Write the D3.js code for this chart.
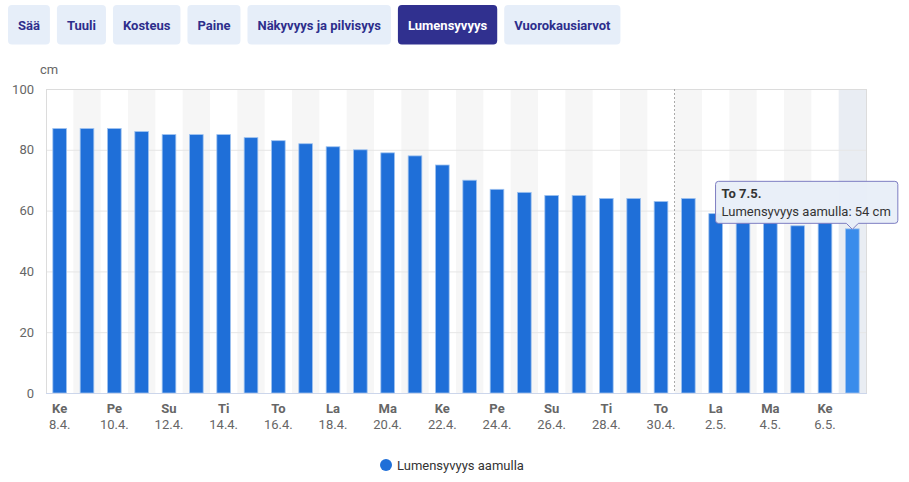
<!DOCTYPE html>
<html>
<head>
<meta charset="utf-8">
<script src="https://cdn.jsdelivr.net/npm/d3@7"></script>
<style>
  body { margin: 0; background: #fff; font-family: Roboto, "Noto Sans", sans-serif; }
  svg { display: block; }
</style>
</head>
<body>
<div id="chart"></div>
<script>
// Tabs above the chart
const tabs = ["Sää", "Tuuli", "Kosteus", "Paine", "Näkyvyys ja pilvisyys", "Lumensyvyys", "Vuorokausiarvot"];
const activeTab = "Lumensyvyys";

// Snow depth, mornings, 8.4. - 7.5.
const dates = ["8.4.", "9.4.", "10.4.", "11.4.", "12.4.", "13.4.", "14.4.", "15.4.", "16.4.", "17.4.",
    "18.4.", "19.4.", "20.4.", "21.4.", "22.4.", "23.4.", "24.4.", "25.4.", "26.4.", "27.4.",
    "28.4.", "29.4.", "30.4.", "1.5.", "2.5.", "3.5.", "4.5.", "5.5.", "6.5.", "7.5."];
const weekdays = ["Ke", "To", "Pe", "La", "Su", "Ma", "Ti", "Ke", "To", "Pe",
    "La", "Su", "Ma", "Ti", "Ke", "To", "Pe", "La", "Su", "Ma",
    "Ti", "Ke", "To", "Pe", "La", "Su", "Ma", "Ti", "Ke", "To"];
const snowDepth = [87, 87, 87, 86, 85, 85, 85, 84, 83, 82,
    81, 80, 79, 78, 75, 70, 67, 66, 65, 65,
    64, 64, 63, 64, 59, 57, 56, 55, 56, 54];
const yTicks = [0, 20, 40, 60, 80, 100];
const seriesName = "Lumensyvyys aamulla";
const unit = "cm";
const hoverIndex = 29;
const monthStart = "1.5.";

const W = 909, H = 482;
const margin = { top: 89, right: 43, bottom: 89, left: 46 };
const width = W - margin.left - margin.right,
    height = H - margin.top - margin.bottom;

const svg = d3.select("#chart").append("svg")
    .attr("width", W)
    .attr("height", H)
    .style("font-family", "Roboto, sans-serif");

// ---- tab buttons
const tabG = svg.append("g").attr("transform", "translate(8,5)");
let tx = 0;
tabs.forEach(function (t) {
    const g = tabG.append("g").attr("transform", "translate(" + tx + ",0)");
    const rect = g.append("rect")
        .attr("height", 39.5)
        .attr("rx", 4)
        .attr("fill", t === activeTab ? "#30308f" : "#e6eef9");
    const label = g.append("text")
        .attr("y", 25)
        .attr("x", 10)
        .style("font-size", "13px")
        .style("font-weight", "bold")
        .attr("fill", t === activeTab ? "#fff" : "#2e2e8c")
        .text(t);
    const w = label.node().getComputedTextLength() + 20;
    rect.attr("width", w);
    tx += w + 7;
});

const plot = svg.append("g")
    .attr("transform", "translate(" + margin.left + "," + margin.top + ")");

// scales
const xBand = d3.scaleBand().domain(dates).range([0, width]);
const x = d3.scaleBand().domain(dates).range([0, width]).paddingInner(0.5).paddingOuter(0.25);
const y = d3.scaleLinear().domain([0, 100]).range([height, 0]);

// alternating background bands
plot.append("g").selectAll("rect")
    .data(dates)
    .join("rect")
    .attr("x", d => xBand(d))
    .attr("y", 0)
    .attr("width", xBand.bandwidth())
    .attr("height", height)
    .attr("fill", (d, i) => i === hoverIndex ? "#e9edf3" : (i % 2 ? "#f6f6f6" : "none"));

// grid lines
plot.append("g").selectAll("line")
    .data(yTicks.filter(v => v > 0 && v < 100))
    .join("line")
    .attr("x1", 0).attr("x2", width)
    .attr("y1", d => y(d) + 0.5).attr("y2", d => y(d) + 0.5)
    .attr("stroke", "#e6e6e6");

// plot border
plot.append("rect")
    .attr("x", 0.5).attr("y", 0.5)
    .attr("width", width).attr("height", height)
    .attr("fill", "none")
    .attr("stroke", "#dcdcdc");

// month boundary (dotted)
plot.append("line")
    .attr("x1", Math.round(xBand(monthStart)) - 0.5)
    .attr("x2", Math.round(xBand(monthStart)) - 0.5)
    .attr("y1", 0).attr("y2", height)
    .attr("stroke", "#aaa")
    .attr("stroke-dasharray", "2,2");

// bars
plot.append("g").selectAll("rect")
    .data(snowDepth)
    .join("rect")
    .attr("x", (d, i) => x(dates[i]))
    .attr("y", d => y(d))
    .attr("width", x.bandwidth())
    .attr("height", d => height - y(d))
    .attr("fill", (d, i) => i === hoverIndex ? "#3a8ceb" : "#1f6fd8")
    .attr("stroke", "#9fc3f0")
    .attr("stroke-width", 0.8);

// x axis line
plot.append("line")
    .attr("x1", 0).attr("x2", width + 1)
    .attr("y1", height + 0.5).attr("y2", height + 0.5)
    .attr("stroke", "#ccd6eb");

// y axis
const yAxis = plot.append("g")
    .call(d3.axisLeft(y).tickValues(yTicks).tickSize(0).tickPadding(12));
yAxis.select(".domain").remove();
yAxis.selectAll("text")
    .style("font-size", "13px")
    .style("font-family", "Roboto, sans-serif")
    .attr("fill", "#666");

svg.append("text")
    .attr("x", 40).attr("y", 74)
    .style("font-size", "13px")
    .attr("fill", "#666")
    .text(unit);

// x axis labels, every other day
const xAxis = plot.append("g")
    .attr("transform", "translate(0," + height + ")")
    .call(d3.axisBottom(xBand).tickValues(dates.filter((d, i) => i % 2 === 0)).tickSize(0).tickFormat(""));
xAxis.select(".domain").remove();
xAxis.selectAll(".tick").each(function (d) {
    const i = dates.indexOf(d);
    const t = d3.select(this).append("text")
        .attr("text-anchor", "middle")
        .attr("fill", "#666")
        .style("font-size", "13px")
        .style("font-family", "Roboto, sans-serif");
    t.append("tspan").attr("x", 0).attr("y", 19.5)
        .style("font-weight", "bold").text(weekdays[i]);
    t.append("tspan").attr("x", 0).attr("y", 35.5).text(d);
});

// legend
const legend = svg.append("g").attr("transform", "translate(386,465)");
legend.append("circle").attr("r", 6).attr("fill", "#1f6fd8");
legend.append("text")
    .attr("x", 11).attr("y", 5)
    .style("font-size", "13px")
    .attr("fill", "#333")
    .text(seriesName);

// tooltip for the hovered bar
const hx = margin.left + x(dates[hoverIndex]) + x.bandwidth() / 2;
const hy = margin.top + y(snowDepth[hoverIndex]);
const tip = svg.append("g");
const tipPath = tip.append("path")
    .attr("fill", "rgba(232,238,248,0.95)")
    .attr("stroke", "#7d7dc2")
    .attr("stroke-width", 1);
const tipText = tip.append("text")
    .style("font-size", "13px")
    .attr("fill", "#333");
tipText.append("tspan").attr("x", 0).attr("y", 0)
    .style("font-weight", "bold")
    .text(weekdays[hoverIndex] + " " + dates[hoverIndex]);
tipText.append("tspan").attr("x", 0).attr("y", 18)
    .text(seriesName + ": " + snowDepth[hoverIndex] + " " + unit);
const tw = tipText.node().getBBox().width;
const boxW = tw + 13, boxH = 42;
const tRight = hx + 45.5, tLeft = tRight - boxW;
const tBottom = hy - 5.5, tTop = tBottom - boxH;
tipText.attr("transform", "translate(" + (tLeft + 6) + "," + (tTop + 16.5) + ")");
tipPath.attr("d",
    "M" + (tLeft + 3) + "," + tTop +
    "H" + (tRight - 3) + "Q" + tRight + "," + tTop + " " + tRight + "," + (tTop + 3) +
    "V" + (tBottom - 3) + "Q" + tRight + "," + tBottom + " " + (tRight - 3) + "," + tBottom +
    "H" + (hx + 6) + "L" + hx + "," + (tBottom + 6) + "L" + (hx - 6) + "," + tBottom +
    "H" + (tLeft + 3) + "Q" + tLeft + "," + tBottom + " " + tLeft + "," + (tBottom - 3) +
    "V" + (tTop + 3) + "Q" + tLeft + "," + tTop + " " + (tLeft + 3) + "," + tTop + "Z");
</script>
</body>
</html>
